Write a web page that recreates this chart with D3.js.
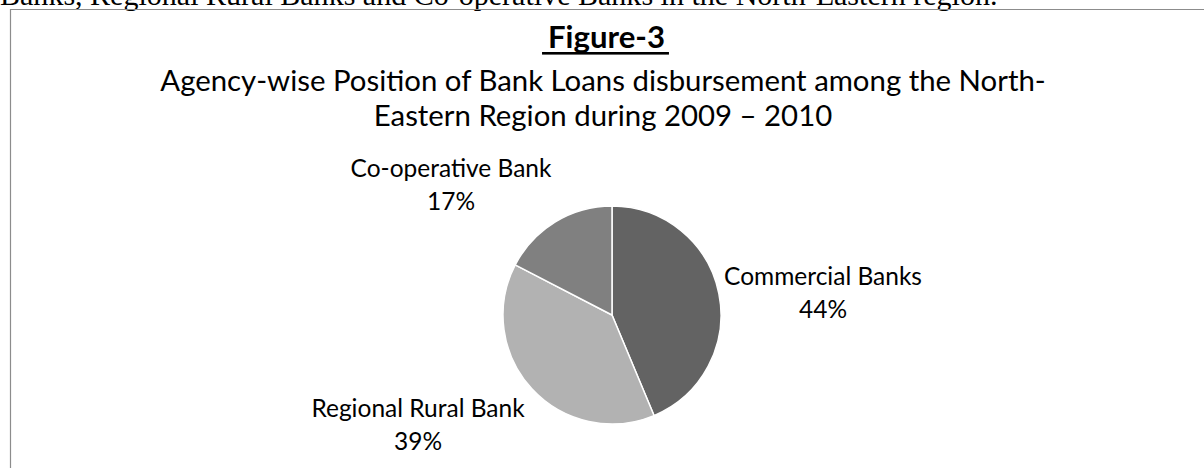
<!DOCTYPE html>
<html>
<head>
<meta charset="utf-8">
<script src="https://cdn.jsdelivr.net/npm/d3@7"></script>
<style>
  html, body { margin: 0; padding: 0; background: #fff; overflow: hidden; }
</style>
</head>
<body>
<div id="chart"></div>
<script>
// data
const categories = ['Commercial Banks', 'Regional Rural Bank', 'Co-operative Bank'];
const shares = [43.7, 38.9, 17.4];
const sliceColors = ['#636363', '#b2b2b2', '#808080'];
const pageLine = 'Banks, Regional Rural Banks and Co-operative Banks in the North-Eastern region.';
const figureTitle = 'Figure-3';
const subtitleLines = ['Agency-wise Position of Bank Loans disbursement among the North-',
                       'Eastern Region during 2009 \u2013 2010'];

const width = 1204, height = 468;
const sans = 'Lato, "Open Sans", sans-serif';

const svg = d3.select('#chart')
    .append('svg')
    .attr('width', width)
    .attr('height', height);

// scale font size so a text gets a given width
function fitWidth(sel, target) {
    sel.style('font-size', '100px');
    const w = sel.node().getComputedTextLength();
    const size = 100 * target / w;
    sel.style('font-size', size + 'px');
    return size;
}

// running text of the page, cut off at the top
const serif = svg.append('text')
    .attr('x', 0)
    .attr('y', 5)
    .style('font-family', '"Liberation Serif", "Times New Roman", serif')
    .attr('fill', '#000')
    .text(pageLine);
fitWidth(serif, 998);

// chart frame (right and bottom edges fall outside the view)
svg.append('path')
    .attr('d', `M10.5,${height + 5} V9.5 H${width + 5}`)
    .attr('fill', 'none')
    .attr('stroke', '#8c8c8c')
    .attr('stroke-width', 1.2);

// title
const title = svg.append('text')
    .attr('x', 606.5)
    .attr('y', 48)
    .attr('text-anchor', 'middle')
    .style('font-family', sans)
    .style('font-weight', 'bold')
    .attr('fill', '#000')
    .text(figureTitle);
fitWidth(title, 117);
const tb = title.node().getBBox();
svg.append('rect')
    .attr('x', tb.x - 6)
    .attr('y', 52)
    .attr('width', tb.width + 10)
    .attr('height', 2.6)
    .attr('fill', '#000');

// subtitle
const sub = svg.selectAll('.subtitle')
    .data(subtitleLines)
    .join('text')
    .attr('class', 'subtitle')
    .attr('x', 603)
    .attr('y', (d, i) => 91 + i * 35)
    .attr('text-anchor', 'middle')
    .style('font-family', sans)
    .attr('fill', '#000')
    .text(d => d);
const subSize = fitWidth(sub.filter((d, i) => i === 0), 886);
sub.style('font-size', subSize + 'px');

// pie
const cx = 612, cy = 315, radius = 109;
const pie = d3.pie().sort(null).value(d => d.value);
const arc = d3.arc().innerRadius(0).outerRadius(radius);
const slices = pie(categories.map((c, i) => ({ name: c, value: shares[i], color: sliceColors[i] })));

const g = svg.append('g').attr('transform', `translate(${cx},${cy})`);
g.selectAll('path')
    .data(slices)
    .join('path')
    .attr('d', arc)
    .attr('fill', d => d.data.color)
    .attr('stroke', '#fff')
    .attr('stroke-width', 1.5)
    .attr('stroke-linejoin', 'round');

// data labels, placed where the chart put them (offsets from pie centre)
const labelOffset = {
    'Commercial Banks': [211, -30],
    'Regional Rural Bank': [-194, 102],
    'Co-operative Bank': [-161, -138]
};
const labels = g.selectAll('.label')
    .data(slices)
    .join('text')
    .attr('class', 'label')
    .attr('text-anchor', 'middle')
    .style('font-family', sans)
    .attr('fill', '#000')
    .attr('transform', d => `translate(${labelOffset[d.data.name][0]},${labelOffset[d.data.name][1]})`);
labels.append('tspan')
    .attr('x', 0)
    .attr('y', 0)
    .text(d => d.data.name);
labels.append('tspan')
    .attr('x', 0)
    .attr('y', 33)
    .text(d => Math.round(d.data.value) + '%');

const probe = labels.filter(d => d.data.name === 'Commercial Banks').select('tspan');
const labelSize = fitWidth(probe, 198);
probe.style('font-size', null);
labels.style('font-size', labelSize + 'px');
</script>
</body>
</html>
